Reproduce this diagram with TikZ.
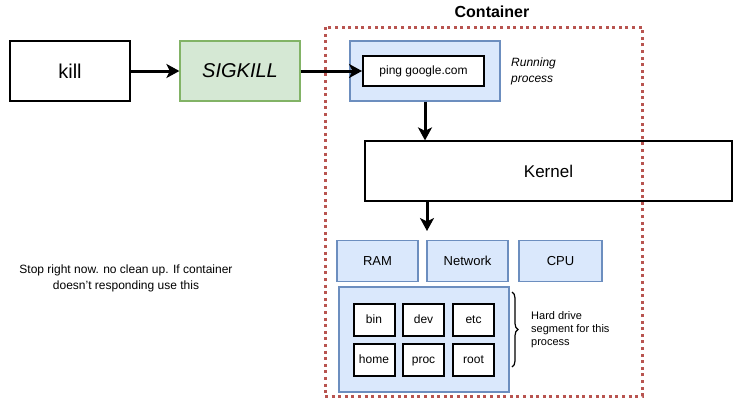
\documentclass[tikz,border=0pt]{standalone}
\usepackage{fontspec}
\setmainfont{Liberation Sans}
\usetikzlibrary{arrows.meta,decorations.pathreplacing}
\definecolor{boxblue}{HTML}{DAE8FC}
\definecolor{edgeblue}{HTML}{6C8EBF}
\definecolor{boxgreen}{HTML}{D5E8D4}
\definecolor{edgegreen}{HTML}{82B366}
\definecolor{dotred}{HTML}{B85450}
\tikzstyle{line} = [draw, line width=3pt, -{Stealth[length=13pt,width=14pt,inset=3.5pt]}]
\tikzstyle{plain} = [draw, line width=1.2pt, inner sep=0pt]
\tikzstyle{part} = [draw=edgeblue, fill=boxblue, line width=1.2pt, inner sep=0pt]
\tikzstyle{folder} = [draw, line width=2pt, fill=white, inner sep=0pt, minimum width=41pt, minimum height=32pt, text height=9pt, text depth=2.5pt, font=\fontsize{12}{14}\selectfont]
\tikzstyle{note} = [inner sep=0pt, align=left, font=\fontsize{11}{13}\selectfont]

\begin{document}
\begin{tikzpicture}[x=1pt, y=-1pt]
            \useasboundingbox (0,0) rectangle (734,400);
            \tikzstyle{every node}+=[text=black]
                \node [plain, minimum width=120pt, minimum height=60pt, font=\fontsize{20}{24}\selectfont] (kill) at (70,71) {kill};
                \node [plain, draw=edgegreen, fill=boxgreen, minimum width=120pt, minimum height=60pt, font=\fontsize{20}{24}\selectfont\itshape] (sig) at (240,71) {SIGKILL};
                \node [draw=dotred, line width=3pt, dash pattern=on 3pt off 3.6pt, inner sep=0pt, minimum width=317pt, minimum height=369pt] (box) at (483.5,211.5) {};
                \node [font=\fontsize{16}{19}\selectfont\bfseries] (boxtitle) at (492,12) {Container};
                \node [part, minimum width=150pt, minimum height=60pt] (run) at (425,71) {};
                \node [plain, line width=2pt, fill=white, minimum width=121pt, minimum height=30pt, text height=9pt, text depth=2.5pt, font=\fontsize{12}{14}\selectfont] (ping) at (423.5,71) {ping google.com};
                \node [note, font=\fontsize{12}{16}\selectfont\itshape, anchor=west] (runnote) at (511,71) {Running\\process};
                \node [plain, minimum width=367pt, minimum height=60pt, font=\fontsize{17}{20}\selectfont] (kernel) at (548.5,171) {Kernel};
                \coordinate (kernelout) at (427,231);
                \node [part, minimum width=81pt, minimum height=41pt, font=\fontsize{13}{16}\selectfont] (ram) at (377.5,261) {RAM};
                \node [part, minimum width=81pt, minimum height=41pt, font=\fontsize{13}{16}\selectfont] (net) at (467.5,261) {Network};
                \node [part, minimum width=83pt, minimum height=41pt, font=\fontsize{13}{16}\selectfont] (cpu) at (560.5,261) {CPU};
                \node [part, minimum width=170pt, minimum height=105pt] (hdd) at (424,339.5) {};
                \node [folder] (bin) at (374,320) {bin};
                \node [folder] (dev) at (423.5,320) {dev};
                \node [folder] (etc) at (473.5,320) {etc};
                \node [folder] (home) at (374,360) {home};
                \node [folder] (proc) at (423.5,360) {proc};
                \node [folder] (root) at (473.5,360) {root};
                \coordinate (bracetop) at (512,292);
                \coordinate (bracebot) at (512,367);
                \node [note, anchor=west] (hddnote) at (531,330) {Hard drive\\segment for this\\process};
                \node [note, align=center, font=\fontsize{12}{16}\selectfont] (stopnote) at (126,278) {Stop right now. no clean up. If container\\doesn't responding use this};
                \path [line] (kill) -- (sig);
                \path [line] (sig) -- (ping);
                \path [line] (run.south) -- (run.south |- kernel.north);
                \path [line] (kernel.south -| kernelout) -- (kernelout);
                \draw [line width=1.2pt, decorate, decoration={brace, amplitude=6pt}] (bracetop) -- (bracebot);
            \end{tikzpicture}
\end{document}
